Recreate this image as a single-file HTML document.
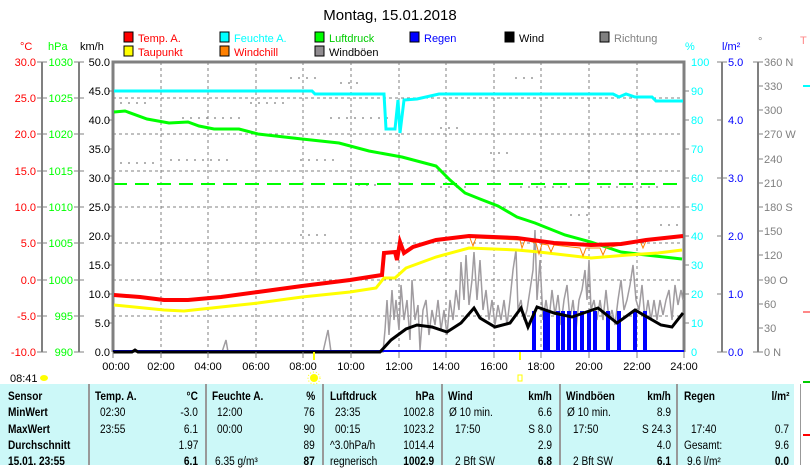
<!DOCTYPE html>
<html><head><meta charset="utf-8"><style>
body{margin:0;width:810px;height:465px;overflow:hidden;background:#fff;font-family:"Liberation Sans",sans-serif;}
svg{position:absolute;left:0;top:0}
text{font-family:"Liberation Sans",sans-serif;font-size:11px}
.tb{position:absolute;left:0;top:384px;width:794px;height:81px;background:#ccf8f8}
.c{position:absolute;font-size:11.5px;white-space:nowrap;transform:scaleX(0.88);transform-origin:left center}
.r{position:absolute;font-size:11.5px;white-space:nowrap;text-align:right;transform:scaleX(0.88);transform-origin:right center}
.b{font-weight:bold}
.sep{position:absolute;top:384px;width:2px;height:81px;background:#999}
</style></head><body>
<div class="tb"></div>
<div class="sep" style="left:88px"></div><div class="sep" style="left:205px"></div><div class="sep" style="left:322px"></div><div class="sep" style="left:441px"></div><div class="sep" style="left:559px"></div><div class="sep" style="left:676px"></div>
<div style="position:absolute;left:800px;top:384px;width:1px;height:81px;background:#999"></div>

<div class="c b" style="left:8px;top:391px">Sensor</div>
<div class="c b" style="left:95px;top:391px">Temp. A.</div><div class="r b" style="right:612px;top:391px">°C</div>
<div class="c b" style="left:212px;top:391px">Feuchte A.</div><div class="r b" style="right:495px;top:391px">%</div>
<div class="c b" style="left:330px;top:391px">Luftdruck</div><div class="r b" style="right:376px;top:391px">hPa</div>
<div class="c b" style="left:448px;top:391px">Wind</div><div class="r b" style="right:258px;top:391px">km/h</div>
<div class="c b" style="left:566px;top:391px">Windböen</div><div class="r b" style="right:139px;top:391px">km/h</div>
<div class="c b" style="left:684px;top:391px">Regen</div><div class="r b" style="right:21px;top:391px">l/m²</div>
<div class="c b" style="left:8px;top:407px">MinWert</div>
<div class="c" style="left:100px;top:407px">02:30</div><div class="r" style="right:612px;top:407px">-3.0</div>
<div class="c" style="left:217px;top:407px">12:00</div><div class="r" style="right:495px;top:407px">76</div>
<div class="c" style="left:335px;top:407px">23:35</div><div class="r" style="right:376px;top:407px">1002.8</div>
<div class="c" style="left:449px;top:407px">Ø 10 min.</div><div class="r" style="right:258px;top:407px">6.6</div>
<div class="c" style="left:567px;top:407px">Ø 10 min.</div><div class="r" style="right:139px;top:407px">8.9</div>
<div class="c b" style="left:8px;top:424px">MaxWert</div>
<div class="c" style="left:100px;top:424px">23:55</div><div class="r" style="right:612px;top:424px">6.1</div>
<div class="c" style="left:217px;top:424px">00:00</div><div class="r" style="right:495px;top:424px">90</div>
<div class="c" style="left:335px;top:424px">00:15</div><div class="r" style="right:376px;top:424px">1023.2</div>
<div class="c" style="left:455px;top:424px">17:50</div><div class="r" style="right:258px;top:424px">S 8.0</div>
<div class="c" style="left:573px;top:424px">17:50</div><div class="r" style="right:139px;top:424px">S 24.3</div>
<div class="c" style="left:691px;top:424px">17:40</div><div class="r" style="right:21px;top:424px">0.7</div>
<div class="c b" style="left:8px;top:440px">Durchschnitt</div>
<div class="r" style="right:612px;top:440px">1.97</div>
<div class="r" style="right:495px;top:440px">89</div>
<div class="c" style="left:330px;top:440px">^3.0hPa/h</div><div class="r" style="right:376px;top:440px">1014.4</div>
<div class="r" style="right:258px;top:440px">2.9</div>
<div class="r" style="right:139px;top:440px">4.0</div>
<div class="c" style="left:684px;top:440px">Gesamt:</div><div class="r" style="right:21px;top:440px">9.6</div>
<div class="c b" style="left:8px;top:456px">15.01. 23:55</div>
<div class="r b" style="right:612px;top:456px">6.1</div>
<div class="c" style="left:215px;top:456px">6.35 g/m³</div><div class="r b" style="right:495px;top:456px">87</div>
<div class="c" style="left:330px;top:456px">regnerisch</div><div class="r b" style="right:376px;top:456px">1002.9</div>
<div class="c" style="left:455px;top:456px">2 Bft SW</div><div class="r b" style="right:258px;top:456px">6.8</div>
<div class="c" style="left:573px;top:456px">2 Bft SW</div><div class="r b" style="right:139px;top:456px">6.1</div>
<div class="c" style="left:687px;top:456px">9.6 l/m²</div><div class="r b" style="right:21px;top:456px">0.0</div>

<svg width="810" height="465" viewBox="0 0 810 465">
<text x="390" y="20" text-anchor="middle" style="font-size:15px">Montag, 15.01.2018</text>
<g stroke="#000" stroke-width="1">
<rect x="124" y="32" width="9" height="10" fill="#f00"/><rect x="124" y="46" width="9" height="10" fill="#ff0"/>
<rect x="220" y="32" width="9" height="10" fill="#0ff"/><rect x="220" y="46" width="9" height="10" fill="#ff8000"/>
<rect x="315" y="32" width="9" height="10" fill="#0f0"/><rect x="315" y="46" width="9" height="10" fill="#908c90"/>
<rect x="410" y="32" width="9" height="10" fill="#00f"/>
<rect x="505" y="32" width="9" height="10" fill="#000"/>
<rect x="600" y="32" width="9" height="10" fill="#808080"/>
</g>
<text x="138" y="42" fill="#f00">Temp. A.</text><text x="138" y="56" fill="#f00">Taupunkt</text>
<text x="234" y="42" fill="#0ff">Feuchte A.</text><text x="234" y="56" fill="#f00">Windchill</text>
<text x="329" y="42" fill="#0c0">Luftdruck</text><text x="329" y="56">Windböen</text>
<text x="424" y="42" fill="#00f">Regen</text>
<text x="519" y="42">Wind</text>
<text x="614" y="42" fill="#808080">Richtung</text>
<text x="20" y="50" fill="#f00">°C</text><text x="48" y="50" fill="#0f0">hPa</text><text x="80" y="50">km/h</text>
<text x="685" y="50" fill="#0ff">%</text><text x="722" y="50" fill="#00f">l/m²</text><text x="758" y="45" fill="#808080">°</text>
<text x="800" y="44" fill="#f88" font-size="13">T</text>
<g stroke="#808080" stroke-width="2"><line x1="42" y1="62" x2="42" y2="352"/><line x1="79" y1="62" x2="79" y2="352"/>
<line x1="722" y1="62" x2="722" y2="352"/><line x1="758" y1="62" x2="758" y2="352"/></g>
<g stroke="#808080" stroke-width="1">
<path d="M37 62h10M37 98h10M37 134h10M37 171h10M37 207h10M37 243h10M37 280h10M37 316h10M37 352h10"/>
<path d="M74 62h10M74 98h10M74 134h10M74 171h10M74 207h10M74 243h10M74 280h10M74 316h10M74 352h10"/>
<path d="M717 62h10M717 120h5M717 178h10M717 236h5M717 294h5M717 352h10"/>
<path d="M753 62h10M758 86h5M758 110h5M758 134h5M758 159h5M758 183h5M758 207h5M758 231h5M758 255h5M758 280h5M758 304h5M758 328h5M753 352h10"/>
<path d="M684 91h5M684 120h5M684 149h5M684 178h5M684 207h5M684 236h5M684 265h5M684 294h5M684 323h5"/>
<path d="M108 91h5M108 120h5M108 149h5M108 178h5M108 207h5M108 236h5M108 265h5M108 294h5M108 323h5"/>
</g>
<g fill="#f00" text-anchor="end"><text x="36" y="66">30.0</text><text x="36" y="102">25.0</text><text x="36" y="138">20.0</text><text x="36" y="175">15.0</text><text x="36" y="211">10.0</text><text x="36" y="247">5.0</text><text x="36" y="284">0.0</text><text x="36" y="320">-5.0</text><text x="36" y="356">-10.0</text></g>
<g fill="#0f0" text-anchor="end"><text x="73" y="66">1030</text><text x="73" y="102">1025</text><text x="73" y="138">1020</text><text x="73" y="175">1015</text><text x="73" y="211">1010</text><text x="73" y="247">1005</text><text x="73" y="284">1000</text><text x="73" y="320">995</text><text x="73" y="356">990</text></g>
<g text-anchor="end"><text x="110" y="66">50.0</text><text x="110" y="95">45.0</text><text x="110" y="124">40.0</text><text x="110" y="153">35.0</text><text x="110" y="182">30.0</text><text x="110" y="211">25.0</text><text x="110" y="240">20.0</text><text x="110" y="269">15.0</text><text x="110" y="298">10.0</text><text x="110" y="327">5.0</text><text x="110" y="356">0.0</text></g>
<g fill="#0ff"><text x="691" y="66">100</text><text x="691" y="95">90</text><text x="691" y="124">80</text><text x="691" y="153">70</text><text x="691" y="182">60</text><text x="691" y="211">50</text><text x="691" y="240">40</text><text x="691" y="269">30</text><text x="691" y="298">20</text><text x="691" y="327">10</text><text x="691" y="356">0</text></g>
<g fill="#00f"><text x="728" y="66">5.0</text><text x="728" y="124">4.0</text><text x="728" y="182">3.0</text><text x="728" y="240">2.0</text><text x="728" y="298">1.0</text><text x="728" y="356">0.0</text></g>
<g fill="#808080"><text x="764" y="66">360 N</text><text x="764" y="90">330</text><text x="764" y="114">300</text><text x="764" y="138">270 W</text><text x="764" y="163">240</text><text x="764" y="187">210</text><text x="764" y="211">180 S</text><text x="764" y="235">150</text><text x="764" y="259">120</text><text x="764" y="284">90  O</text><text x="764" y="308">60</text><text x="764" y="332">30</text><text x="764" y="356">0    N</text></g>
<g stroke="#808080" stroke-width="1" stroke-dasharray="3,3">
<path d="M113 98H684M113 134H684M113 171H684M113 207H684M113 243H684M113 280H684M113 316H684"/>
<path d="M161 62V352M208 62V352M256 62V352M303 62V352M351 62V352M399 62V352M446 62V352M494 62V352M541 62V352M589 62V352M637 62V352"/>
</g>
<g stroke="#808080" stroke-width="1.5" stroke-dasharray="2,6" opacity="0.8">
<path d="M290 78h30M340 83h20M330 118h60M182 118h60M170 160h60M300 160h40M120 163h40M440 128h20M490 153h20M515 78h20M440 187h30M520 187h50M600 187h60M350 185h30M300 235h30M570 215h20M660 225h20M120 103h30M250 103h40"/>
</g>
<line x1="113" y1="184" x2="684" y2="184" stroke="#0f0" stroke-width="2" stroke-dasharray="14,8"/>
<path d="M113 352V62H684V352" fill="none" stroke="#808080" stroke-width="3"/>
<polyline fill="none" stroke="#a09ca0" stroke-width="1.5" points="113,352 222,352 226,340 228,352 323,352 328,330 331,352 383,352 385,330 387,300 389,335 392,290 394,320 396,300 399,330 401,285 404,320 407,300 410,340 412,280 415,320 418,305 420,350 423,310 426,300 429,335 432,310 435,325 438,300 441,330 444,310 447,335 450,300 453,320 456,290 459,310 461,262 464,300 466,255 469,305 472,280 474,252 477,300 480,260 483,310 486,290 489,320 492,300 495,325 498,305 501,320 504,300 507,325 510,300 513,270 516,250 518,310 521,300 524,320 527,310 530,290 533,270 535,230 537,300 540,260 543,320 546,300 549,320 552,290 555,315 558,295 561,325 564,300 567,285 570,320 573,300 576,330 579,300 582,290 585,270 587,300 589,260 591,310 594,300 597,320 600,300 603,320 606,290 609,320 612,310 615,325 618,300 621,280 624,310 627,300 630,285 633,265 636,300 639,310 642,285 645,320 648,300 651,320 654,300 657,320 660,300 663,315 666,300 669,290 672,320 675,285 678,305 681,290 683,300"/>
<g fill="#00f"><rect x="532" y="311" width="4" height="41"/><rect x="543" y="311" width="7" height="41"/><rect x="556" y="311" width="4" height="41"/><rect x="561" y="311" width="4" height="41"/><rect x="567" y="311" width="4" height="41"/><rect x="573" y="311" width="4" height="41"/><rect x="580" y="311" width="4" height="41"/><rect x="587" y="311" width="4" height="41"/><rect x="593" y="311" width="4" height="41"/><rect x="606" y="311" width="4" height="41"/><rect x="617" y="311" width="4" height="41"/><rect x="633" y="311" width="4" height="41"/><rect x="643" y="311" width="4" height="41"/></g>
<line x1="113" y1="351" x2="684" y2="351" stroke="#00f" stroke-width="2"/>
<polyline fill="none" stroke="#000" stroke-width="3" points="113,352 132,352 135,350 138,352 380,352 391,340 406,329 417,325 432,327 447,332 461,323 474,308 480,318 495,327 510,323 521,308 528,327 537,307 554,313 572,317 598,308 617,323 635,310 661,325 672,327 683,313"/>
<polyline fill="none" stroke="#0ff" stroke-width="3" points="114,91 312,91 315,94 384,94 386,129 395,129 398,100 400,133 404,100 417,99 439,94 613,94 619,97 626,94 635,97 652,97 656,101 683,101"/>
<polyline fill="none" stroke="#0f0" stroke-width="3" points="114,112 125,111 147,119 169,123 188,122 199,126 214,129 239,129 258,134 302,139 339,143 369,151 402,157 436,166 450,180 465,193 480,199 498,206 517,217 535,223 565,235 591,242 621,252 646,255 682,259"/>
<polyline fill="none" stroke="#ff0" stroke-width="3" points="114,305 164,310 184,311 221,307 258,303 302,297 350,292 376,288 384,278 395,278 406,268 436,257 469,248 517,250 539,252 591,258 628,255 658,253 682,250"/>
<polyline fill="none" stroke="#ff8000" stroke-width="1" points="470,238 473,246 476,238 520,240 522,248 525,240 536,243 539,254 542,244 548,245 551,252 554,245 580,248 583,256 586,248 600,248 603,255 606,248 640,241 643,248 646,241"/>
<polyline fill="none" stroke="#f00" stroke-width="4" points="114,295 140,297 164,300 188,300 221,297 258,292 302,286 350,280 369,277 382,275 384,253 395,252 397,260 400,242 404,253 413,247 436,240 469,236 517,238 554,243 591,245 621,244 646,240 683,236"/>
<g stroke="#808080"><path d="M113 352v6M161 352v6M208 352v6M256 352v6M303 352v6M351 352v6M399 352v6M446 352v6M494 352v6M541 352v6M589 352v6M637 352v6M684 352v6"/></g>
<g stroke="#ff0" stroke-width="2"><path d="M314 352v8M520 352v8"/></g>
<g text-anchor="middle"><text x="116" y="370">00:00</text><text x="161" y="370">02:00</text><text x="208" y="370">04:00</text><text x="256" y="370">06:00</text><text x="303" y="370">08:00</text><text x="351" y="370">10:00</text><text x="399" y="370">12:00</text><text x="446" y="370">14:00</text><text x="494" y="370">16:00</text><text x="541" y="370">18:00</text><text x="589" y="370">20:00</text><text x="637" y="370">22:00</text><text x="684" y="370">24:00</text></g>
<text x="10" y="382">08:41</text>
<ellipse cx="44" cy="378" rx="4" ry="3" fill="#ff0"/>
<circle cx="314" cy="378" r="4" fill="#ff0"/><circle cx="314" cy="378" r="6" fill="none" stroke="#ff0" stroke-dasharray="1,2"/>
<rect x="518" y="375" width="4" height="6" fill="none" stroke="#ff0"/>
<g stroke-width="2"><path d="M803 86h7" stroke="#0ff"/><path d="M803 312h7" stroke="#f88"/><path d="M803 382h7" stroke="#0c0"/><path d="M803 435h7" stroke="#f00"/></g>
</svg>
</body></html>
